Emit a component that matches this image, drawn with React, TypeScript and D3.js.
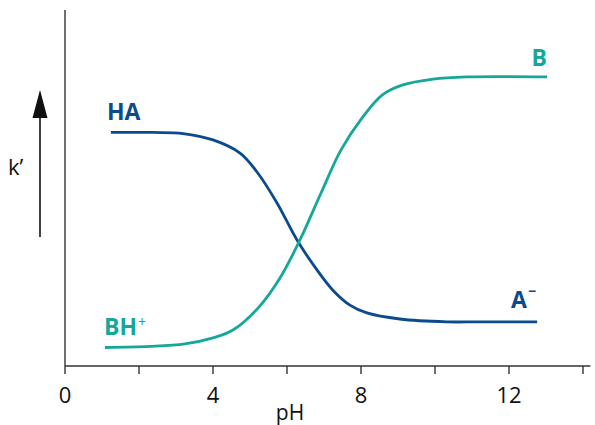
import React from "react";
import * as d3 from "d3";

// Data (pH vs relative k')
const haPH = [1.24, 2.38, 3.19, 4.0, 4.73, 5.19, 5.73, 6.27, 6.81, 7.24, 7.7, 8.16, 9.05, 10.32, 11.2, 12.76];
const haK = [65.6, 65.6, 65.3, 63.5, 59.8, 54.5, 45.8, 35.4, 27.0, 21.3, 17.1, 14.9, 13.2, 12.4, 12.4, 12.4];
const bPH = [1.08, 2.3, 3.24, 4.0, 4.54, 5.27, 5.81, 6.35, 6.92, 7.46, 8.03, 8.57, 9.11, 9.95, 10.86, 13.03];
const bK = [5.2, 5.5, 6.2, 7.9, 10.1, 16.9, 24.7, 35.4, 48.6, 60.7, 69.7, 76.1, 78.9, 80.6, 81.2, 81.2];
const tickValues = [0, 2, 4, 6, 8, 10, 12, 14];
const tickLabels = ["0", "", "4", "", "8", "", "12", ""];

const BLUE = "#0b4a8c";
const TEAL = "#13a89b";
const AXIS = "#333333";
const FONT = "'Open Sans', 'DejaVu Sans', sans-serif";

export default function App() {
  const x = d3.scaleLinear().domain([0, 14]).range([65, 583]);
  const y = d3.scaleLinear().domain([0, 100]).range([366, 10]);
  const line = d3
    .line<[number, number]>()
    .x((d) => x(d[0]))
    .y((d) => y(d[1]))
    .curve(d3.curveCatmullRom.alpha(0.5));
  const haPts = haPH.map((p, i) => [p, haK[i]] as [number, number]);
  const bPts = bPH.map((p, i) => [p, bK[i]] as [number, number]);
  const x0 = x(0);
  const y0 = y(0);

  return (
    <svg
      width={595}
      height={425}
      style={{ position: "absolute", left: 0, top: 0, background: "#fff" }}
      fontFamily={FONT}
    >
      {/* axes */}
      <line x1={x0} x2={x0} y1={y(100)} y2={y0} stroke={AXIS} strokeWidth={1.4} />
      <line x1={x0} x2={x(14.2)} y1={y0} y2={y0} stroke={AXIS} strokeWidth={1.4} />
      {tickValues.map((t, i) => (
        <g key={t}>
          <line x1={x(t)} x2={x(t)} y1={y0} y2={y0 + 8} stroke={AXIS} strokeWidth={1.4} />
          {tickLabels[i] && (
            <text x={x(t)} y={403} textAnchor="middle" fontSize={22} fill="#111">
              {tickLabels[i]}
            </text>
          )}
        </g>
      ))}
      <text x={290} y={420} textAnchor="middle" fontSize={21} fill="#111">
        pH
      </text>

      {/* y label with arrow */}
      <line x1={40} x2={40} y1={237} y2={116} stroke="#111" strokeWidth={1.6} />
      <polygon points="40,90 32.5,118 47.5,118" fill="#111" />
      <text x={8} y={175} fontSize={22} fill="#111">
        k’
      </text>

      {/* curves */}
      <path d={line(haPts) || ""} fill="none" stroke={BLUE} strokeWidth={2.8} />
      <path d={line(bPts) || ""} fill="none" stroke={TEAL} strokeWidth={2.8} />

      {/* labels */}
      <text x={107} y={120} fontSize={23} fontWeight="bold" fill={BLUE}>
        HA
      </text>
      <text x={511} y={308} fontSize={23} fontWeight="bold" fill={BLUE}>
        A
        <tspan fontSize={14} dy={-12} dx={1}>
          −
        </tspan>
      </text>
      <text x={547} y={66} fontSize={23} fontWeight="bold" fill={TEAL} textAnchor="end">
        B
      </text>
      <text x={104} y={335} fontSize={23} fontWeight="bold" fill={TEAL}>
        BH
        <tspan fontSize={14} dy={-8} dx={1} fontWeight="normal">
          +
        </tspan>
      </text>
    </svg>
  );
}
